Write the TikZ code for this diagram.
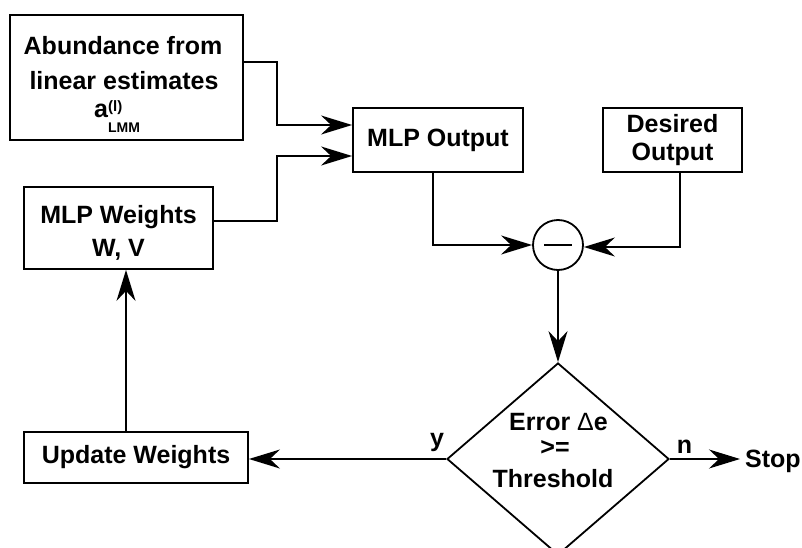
\documentclass[tikz,border=0pt]{standalone}
\usepackage{fontspec}
\setmainfont{Liberation Sans}
\usetikzlibrary{arrows.meta,shapes.geometric,calc}
\begin{document}
\begin{tikzpicture}[x=1pt,y=-1pt,
  box/.style={draw,line width=1.8pt,inner sep=0pt,align=center,
    font=\bfseries\fontsize{25}{28}\selectfont},
  txt/.style={inner sep=0pt,anchor=base,font=\bfseries\fontsize{25}{28}\selectfont},
  conn/.style={line width=1.8pt},
  arr/.style={conn,-{Stealth[length=31pt,width=19pt,inset=10pt]}}]
\useasboundingbox (0,0) rectangle (802,548);
% boxes
\node[box,minimum width=233pt,minimum height=125pt] (abund) at (126.5,77.5) {};
\node[txt] (abund1) at (123,55) {Abundance from};
\node[txt] (abund2) at (124,90) {linear estimates};
\node[txt,anchor=base west] (abund3) at (94,118) {a\rlap{\raisebox{6pt}{\fontsize{15}{15}\selectfont(l)}}\raisebox{-15pt}{\fontsize{14}{14}\selectfont LMM}};
\node[box,minimum width=170pt,minimum height=64pt] (mlpout) at (438,140) {MLP Output};
\node[box,minimum width=139pt,minimum height=64pt] (desired) at (672.5,140) {Desired\\Output};
\node[box,minimum width=189pt,minimum height=82pt] (mlpw) at (118.5,228) {};
\node[txt] (mlpw1) at (118.5,223) {MLP Weights};
\node[txt] (mlpw2) at (118.5,256) {W, V};
\node[box,minimum width=224pt,minimum height=51pt] (upd) at (136,457.5) {Update Weights};
\node[draw,circle,line width=1.8pt,minimum size=50pt,inner sep=0pt] (sum) at (558,245) {};
\draw[line width=1.5pt] ([xshift=-14pt]sum.center) -- ([xshift=14pt]sum.center);
\node[draw,diamond,line width=1.8pt,inner sep=0pt,minimum width=222pt,minimum height=192pt] (dia) at (558,459) {};
\node[txt] (dia1) at (558.5,430) {Error {\mdseries Δ}e};
\node[txt] (dia2) at (555,455) {>=};
\node[txt] (dia3) at (553,487) {Threshold};
\node[txt,anchor=base west] (stop) at (745,467) {Stop};
\node[txt] (ylab) at (437,446) {y};
\node[txt] (nlab) at (684.5,453) {n};
% connectors
\draw[arr] ([yshift=15.5pt]abund.east) -- ++(33,0) |- ([yshift=15pt]mlpout.west);
\draw[arr] ([yshift=7pt]mlpw.east) -- ++(63,0) |- ([yshift=-16pt]mlpout.west);
\draw[arr] ([xshift=-5pt]mlpout.south) |- (sum.west);
\draw[arr] ([xshift=7.5pt]desired.south) |- ([yshift=-2pt]sum.east);
\draw[arr] (sum.south) -- (dia.north);
\draw[arr] (dia.west) -- (dia.west -| upd.east);
\draw[arr] ([xshift=-10pt]upd.north) -- ([xshift=-10pt]upd.north |- mlpw.south);
\draw[arr,shorten >=5pt] (dia.east) -- (dia.east -| stop.west);
\end{tikzpicture}
\end{document}
